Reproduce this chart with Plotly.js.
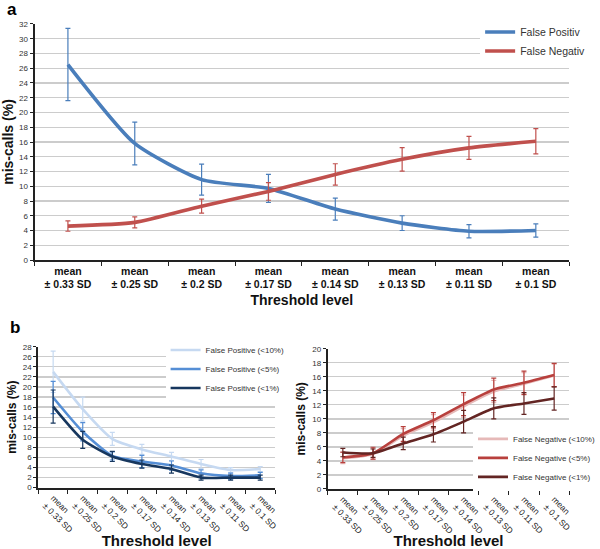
<!DOCTYPE html>
<html><head><meta charset="utf-8">
<script src="https://cdn.plot.ly/plotly-3.0.1.min.js"></script>
<style>html,body{margin:0;padding:0;background:#fff}#chart{width:600px;height:549px}</style>
</head><body><div id="chart"></div>
<script>
const categories = ["mean<br>± 0.33 SD","mean<br>± 0.25 SD","mean<br>± 0.2 SD","mean<br>± 0.17 SD","mean<br>± 0.14 SD","mean<br>± 0.13 SD","mean<br>± 0.11 SD","mean<br>± 0.1 SD"];

// Panel a
const fpA = [26.5, 15.8, 10.9, 9.7, 6.9, 5.0, 3.9, 4.0];
const fpAerr = [4.9, 2.9, 2.1, 1.9, 1.5, 1.0, 0.9, 0.9];
const fnA = [4.6, 5.1, 7.3, 9.3, 11.6, 13.65, 15.2, 16.1];
const fnAerr = [0.7, 0.75, 0.95, 1.2, 1.45, 1.6, 1.55, 1.7];

// Panel b left
const fp10 = [23.0, 15.6, 9.7, 7.6, 6.2, 4.7, 3.5, 3.7];
const fp10err = [4.1, 2.4, 1.3, 1.0, 0.8, 0.9, 0.5, 0.5];
const fp5 = [17.9, 11.1, 6.3, 5.2, 4.4, 2.85, 2.3, 2.45];
const fp5err = [3.2, 1.8, 0.8, 1.2, 0.9, 0.7, 0.6, 0.6];
const fp1 = [16.1, 9.5, 6.2, 4.7, 3.7, 2.0, 2.0, 2.0];
const fp1err = [3.3, 1.7, 1.0, 0.8, 0.8, 0.5, 0.5, 0.5];

// Panel b right
const fn10 = [4.4, 5.0, 7.6, 9.5, 11.8, 13.9, 15.0, 16.2];
const fn10err = [0.8, 0.8, 1.0, 1.1, 1.6, 1.6, 1.6, 1.6];
const fn5 = [4.5, 5.1, 7.85, 9.8, 12.1, 14.2, 15.15, 16.25];
const fn5err = [0.75, 0.85, 1.05, 1.1, 1.65, 1.6, 1.65, 1.65];
const fn1 = [5.2, 5.1, 6.5, 7.8, 9.6, 11.5, 12.2, 12.9];
const fn1err = [0.6, 0.6, 0.9, 1.1, 1.6, 1.5, 1.55, 1.65];

function tr(y, err, name, color, xa, ya, leg, w) {
  return {
    type: 'scatter', mode: 'lines', x: categories, y: y, name: name,
    xaxis: xa, yaxis: ya, legend: leg,
    line: {color: color, width: w, shape: 'spline', smoothing: 0.6},
    error_y: {type: 'data', array: err, visible: true, color: color, thickness: 1.2, width: 2.5}
  };
}

const data = [
  tr(fpA, fpAerr, 'False Positiv', '#4a7ebb', 'x', 'y', 'legend', 3.6),
  tr(fnA, fnAerr, 'False Negativ', '#c0504d', 'x', 'y', 'legend', 3.6),
  tr(fp10, fp10err, 'False Positive (<10%)', '#c6d9f1', 'x2', 'y2', 'legend2', 2.6),
  tr(fp5, fp5err, 'False Positive (<5%)', '#558ed5', 'x2', 'y2', 'legend2', 2.6),
  tr(fp1, fp1err, 'False Positive (<1%)', '#17375e', 'x2', 'y2', 'legend2', 2.6),
  tr(fn10, fn10err, 'False Negative (<10%)', '#e6b9b8', 'x3', 'y3', 'legend3', 2.6),
  tr(fn5, fn5err, 'False Negative (<5%)', '#b8403d', 'x3', 'y3', 'legend3', 2.6),
  tr(fn1, fn1err, 'False Negative (<1%)', '#632523', 'x3', 'y3', 'legend3', 2.6)
];

const gridc = '#cccccc';
function yax(anchor, domain, range, dtick, tickSize, titleSize, standoff) {
  return {
    anchor: anchor, domain: domain, range: range, dtick: dtick, showgrid: true, gridcolor: gridc, gridwidth: 1.3,
    zeroline: false, showline: true, linecolor: '#222', linewidth: 2,
    ticks: 'outside', ticklen: 3, tickcolor: '#222',
    tickfont: {size: tickSize, color: '#333'},
    title: {text: 'mis-calls (%)', font: {size: titleSize, weight: 'bold', color: '#111'}, standoff: standoff},
    automargin: false, fixedrange: true
  };
}
function xax(anchor, domain, tickangle, tickfont, titleSize, standoff) {
  return {
    anchor: anchor, domain: domain, type: 'category', range: [-0.5, 7.5],
    tickson: 'boundaries', ticks: 'outside', ticklen: 4, tickcolor: '#222',
    showline: true, linecolor: '#222', linewidth: 2, showgrid: false, zeroline: false,
    tickangle: tickangle, tickfont: tickfont,
    title: {text: 'Threshold level', font: {size: titleSize, weight: 'bold', color: '#111'}, standoff: standoff},
    automargin: false, fixedrange: true
  };
}

const layout = {
  width: 600, height: 549,
  margin: {l: 0, r: 0, t: 0, b: 0},
  paper_bgcolor: '#fff', plot_bgcolor: '#fff',
  font: {family: 'Liberation Sans, Arial, sans-serif', color: '#222'},
  showlegend: true,
  xaxis: xax('y', [0.06, 0.99], 0, {size: 10.5, weight: 'bold', color: '#111'}, 14, 6),
  yaxis: yax('x', [0.5264, 0.9563], [0, 32], 2, 8, 14, 4),
  xaxis2: xax('y2', [0.0667, 0.4783], 45, {size: 8.5, color: '#222'}, 15, 2),
  yaxis2: yax('x2', [0.1117, 0.3685], [0, 28], 2, 8, 12, 4),
  xaxis3: xax('y3', [0.57, 0.99], 45, {size: 8.5, color: '#222'}, 15, 2),
  yaxis3: yax('x3', [0.1093, 0.3648], [0, 20], 2, 8, 12, 4),
  legend: {x: 0.835, y: 0.968, xanchor: 'left', yanchor: 'top', bgcolor: '#fff',
           font: {size: 10.5, color: '#333'}, tracegroupgap: 0, itemwidth: 30},
  legend2: {x: 0.288, y: 0.389, xanchor: 'left', yanchor: 'top', bgcolor: '#fff',
           font: {size: 8, color: '#333'}, tracegroupgap: 0, itemwidth: 30},
  legend3: {x: 0.823, y: 0.227, xanchor: 'left', yanchor: 'top', bgcolor: '#fff',
           font: {size: 8, color: '#333'}, tracegroupgap: 0, itemwidth: 30},
  annotations: [
    {text: '<b>a</b>', x: 5/600, y: 1 - 10/549, xref: 'paper', yref: 'paper', xanchor: 'left', yanchor: 'middle', showarrow: false, font: {size: 17, color: '#000'}},
    {text: '<b>b</b>', x: 8/600, y: 1 - 327/549, xref: 'paper', yref: 'paper', xanchor: 'left', yanchor: 'middle', showarrow: false, font: {size: 17, color: '#000'}}
  ]
};

Plotly.newPlot('chart', data, layout, {displayModeBar: false, staticPlot: true});
</script>
</body></html>
